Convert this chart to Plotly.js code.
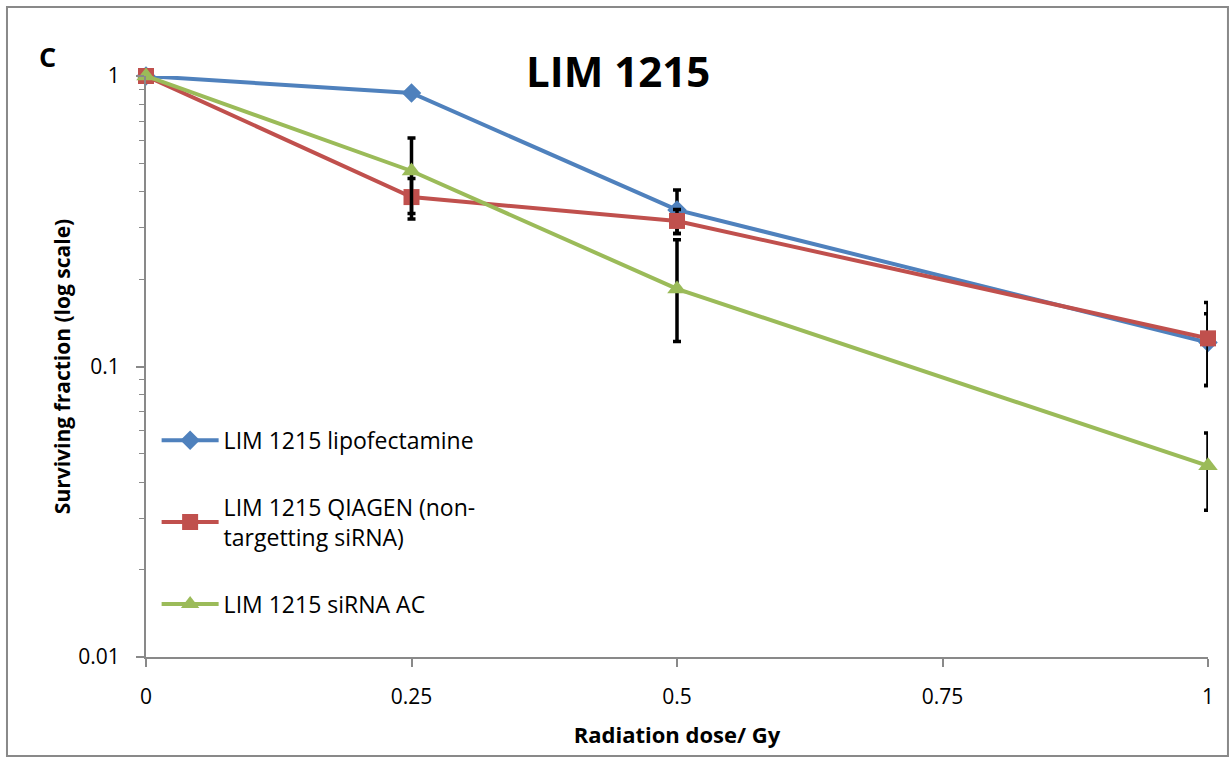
<!DOCTYPE html>
<html>
<head>
<meta charset="utf-8">
<script src="https://cdn.plot.ly/plotly-3.0.1.min.js"></script>
<style>html,body{margin:0;padding:0;background:#fff;}#chart{width:1231px;height:758px;}</style>
</head>
<body>
<div id="chart"></div>
<script>
const doses = [0, 0.25, 0.5, 1];
const lipoNames = "LIM 1215 lipofectamine";
const qiagenName = "LIM 1215 QIAGEN (non-<br>targetting siRNA)";
const sirnaName = "LIM 1215 siRNA AC";
const lipoValues = [1, 0.874, 0.346, 0.121];
const lipoErrPlus = [0, 0, 0.059, 0.031];
const lipoErrMinus = [0, 0, 0.059, 0.035];
const qiagenValues = [1, 0.383, 0.317, 0.125];
const qiagenErrPlus = [0, 0.061, 0.03, 0.041];
const qiagenErrMinus = [0, 0.061, 0.03, 0.039];
const sirnaValues = [1, 0.471, 0.185, 0.0455];
const sirnaErrPlus = [0, 0.141, 0.088, 0.0135];
const sirnaErrMinus = [0, 0.135, 0.063, 0.0135];
const xTicks = [0, 0.25, 0.5, 0.75, 1];
const xTickText = ["0", "0.25", "0.5", "0.75", "1"];
const yTicks = [0.01, 0.1, 1];
const yTickText = ["0.01", "0.1", "1"];
const yMinorTicks = [0.02, 0.03, 0.04, 0.05, 0.06, 0.07, 0.08, 0.09, 0.2, 0.3, 0.4, 0.5, 0.6, 0.7, 0.8, 0.9];

const font = "Open Sans, Noto Sans, sans-serif";
function errs(plus, minus) {
  return {type: 'data', symmetric: false, array: plus, arrayminus: minus,
          color: '#000', thickness: 3.5, width: 4};
}
const traces = [
  {x: doses, y: lipoValues, name: lipoNames, mode: 'lines+markers', legendgroup: 'a',
   line: {color: '#4F81BD', width: 4}, marker: {symbol: 'diamond', size: 15, color: '#4F81BD'},
   error_y: errs(lipoErrPlus, lipoErrMinus), cliponaxis: false},
  {x: doses, y: qiagenValues, name: qiagenName, mode: 'lines+markers', legendgroup: 'b',
   line: {color: '#C0504D', width: 4}, marker: {symbol: 'square', size: 16, color: '#C0504D'},
   error_y: errs(qiagenErrPlus, qiagenErrMinus), cliponaxis: false},
  {x: doses, y: sirnaValues, name: sirnaName, mode: 'lines+markers', legendgroup: 'c',
   line: {color: '#9BBB59', width: 4}, marker: {symbol: 'triangle-up', size: 17, color: '#9BBB59'},
   error_y: errs(sirnaErrPlus, sirnaErrMinus), cliponaxis: false}
];
const layout = {
  width: 1231, height: 758,
  margin: {l: 146, r: 23, t: 76, b: 101},
  paper_bgcolor: '#fff', plot_bgcolor: '#fff',
  font: {family: font, color: '#000', size: 21},
  showlegend: true,
  legend: {x: 0.010, y: 0.41, xanchor: 'left', yanchor: 'top', traceorder: 'grouped',
           tracegroupgap: 34, font: {size: 23, family: font}, bgcolor: 'rgba(0,0,0,0)',
           itemwidth: 57},
  xaxis: {range: [0, 1], tickvals: xTicks, ticktext: xTickText, showgrid: false, zeroline: false,
          showline: true, linecolor: '#898989', linewidth: 2, ticks: 'outside', ticklen: 8,
          tickcolor: '#898989', tickwidth: 2, tickfont: {size: 21}, ticklabelstandoff: 12, fixedrange: true,
          title: {text: 'Radiation dose/ Gy', font: {size: 22, family: font, weight: 'bold'}, standoff: 18}},
  yaxis: {type: 'log', range: [-2, 0], tickvals: yTicks, ticktext: yTickText, showgrid: false,
          zeroline: false, showline: true, linecolor: '#898989', linewidth: 2, ticks: 'outside',
          ticklen: 8, tickcolor: '#898989', tickwidth: 2, tickfont: {size: 21}, ticklabelstandoff: 12,
          minor: {tickmode: 'array', tickvals: yMinorTicks, ticks: 'outside', ticklen: 5,
                  tickcolor: '#898989', tickwidth: 1, showgrid: false},
          title: {text: 'Surviving fraction (log scale)', font: {size: 21, family: font, weight: 'bold'}, standoff: 2}},
  annotations: [
    {text: '<b>LIM 1215</b>', xref: 'paper', yref: 'paper', x: 0.444, y: 1.010, showarrow: false,
     font: {size: 42, family: font}, xanchor: 'center', yanchor: 'middle'},
    {text: '<b>C</b>', xref: 'paper', yref: 'paper', x: -0.093, y: 1.033, showarrow: false,
     font: {size: 27, family: font}, xanchor: 'center', yanchor: 'middle'}
  ],
  shapes: [
    {type: 'rect', xref: 'paper', yref: 'paper', x0: -0.1309, x1: 1.0188, y0: -0.1704, y1: 1.1188,
     line: {color: '#898989', width: 2}, fillcolor: 'rgba(0,0,0,0)', layer: 'below'}
  ]
};
Plotly.newPlot('chart', traces, layout, {displayModeBar: false, staticPlot: true});
</script>
</body>
</html>
